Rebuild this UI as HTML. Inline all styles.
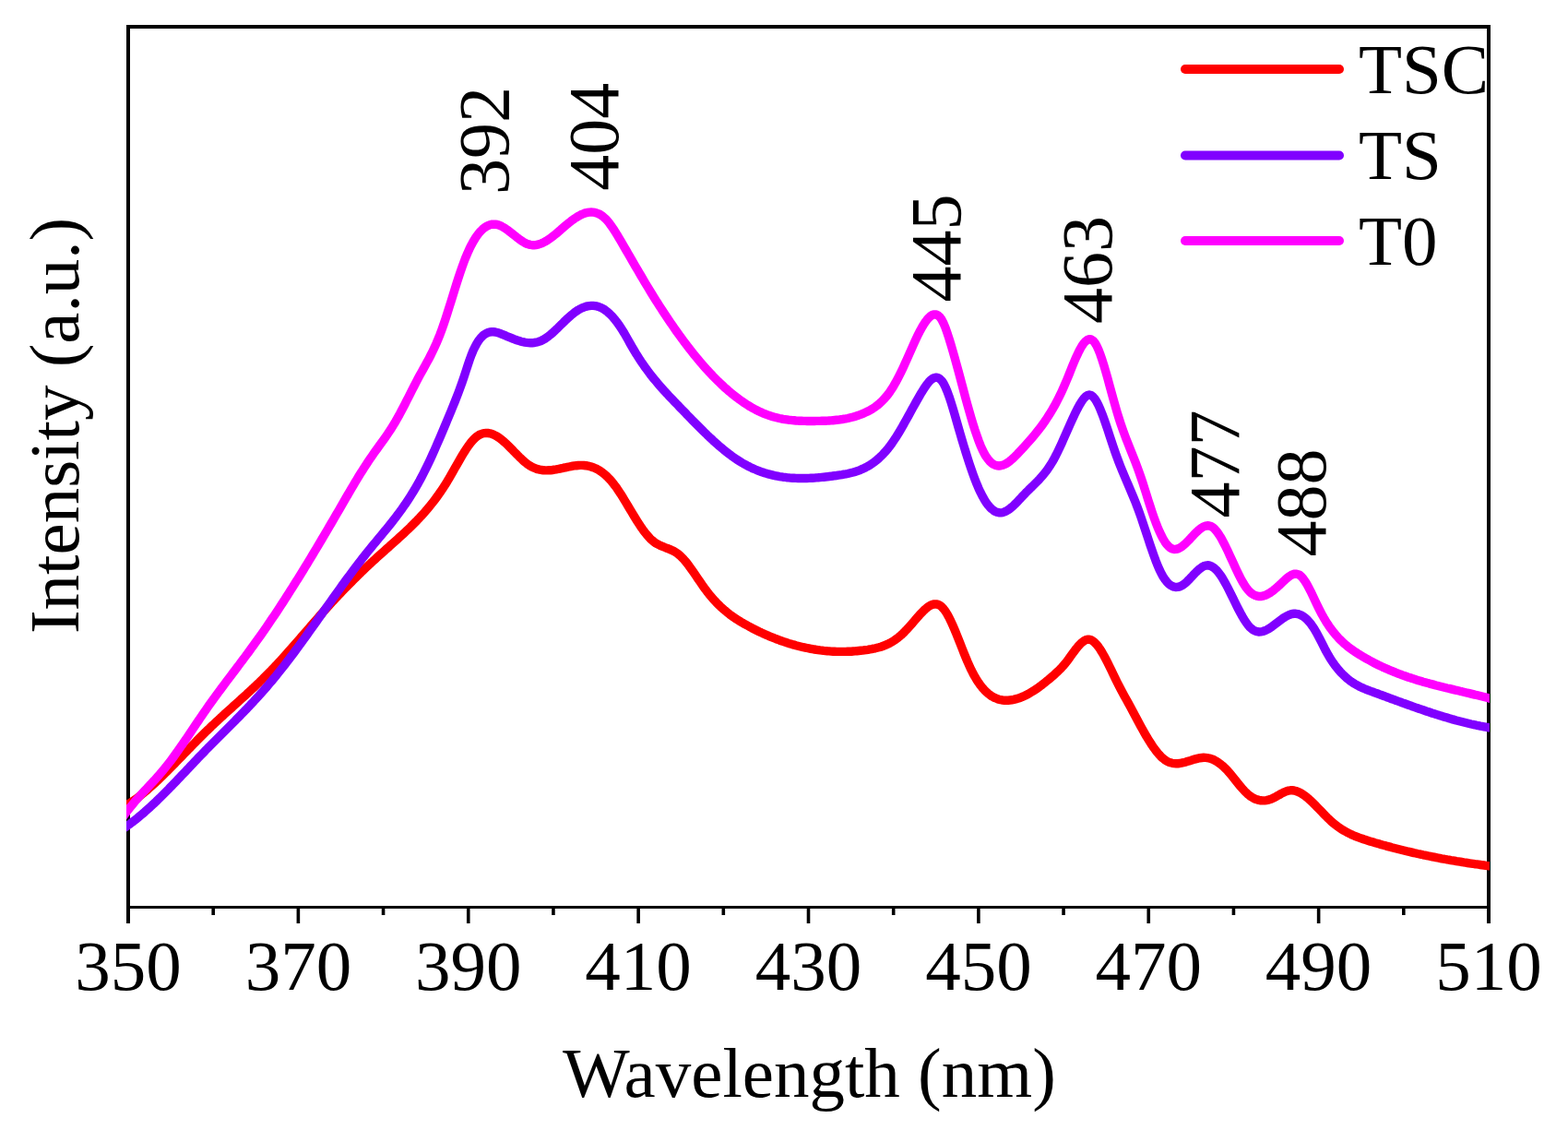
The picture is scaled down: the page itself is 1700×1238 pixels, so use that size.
<!DOCTYPE html>
<html><head><meta charset="utf-8"><title>PL spectra</title>
<style>html,body{margin:0;padding:0;background:#fff;width:1700px;height:1238px;overflow:hidden}svg{display:block}</style>
</head><body>
<svg width="1700" height="1238" viewBox="0 0 1700 1238">
<rect width="1700" height="1238" fill="#fff"/>
<g fill="#000">
<rect x="137" y="27" width="4" height="974"/>
<rect x="1612" y="27" width="4" height="974"/>
<rect x="137" y="27" width="1479" height="4"/>
<rect x="137" y="982" width="1479" height="3"/>
<rect x="137.20" y="985" width="3.6" height="16"/><rect x="229.39" y="985" width="3.6" height="7"/><rect x="321.57" y="985" width="3.6" height="16"/><rect x="413.76" y="985" width="3.6" height="7"/><rect x="505.95" y="985" width="3.6" height="16"/><rect x="598.14" y="985" width="3.6" height="7"/><rect x="690.33" y="985" width="3.6" height="16"/><rect x="782.51" y="985" width="3.6" height="7"/><rect x="874.70" y="985" width="3.6" height="16"/><rect x="966.89" y="985" width="3.6" height="7"/><rect x="1059.08" y="985" width="3.6" height="16"/><rect x="1151.26" y="985" width="3.6" height="7"/><rect x="1243.45" y="985" width="3.6" height="16"/><rect x="1335.64" y="985" width="3.6" height="7"/><rect x="1427.83" y="985" width="3.6" height="16"/><rect x="1520.01" y="985" width="3.6" height="7"/><rect x="1612.20" y="985" width="3.6" height="16"/>
</g>
<g font-family="'Liberation Serif', 'Times New Roman', serif" font-size="77" fill="#000">
<text x="139.0" y="1073" text-anchor="middle">350</text><text x="323.4" y="1073" text-anchor="middle">370</text><text x="507.8" y="1073" text-anchor="middle">390</text><text x="692.1" y="1073" text-anchor="middle">410</text><text x="876.5" y="1073" text-anchor="middle">430</text><text x="1060.9" y="1073" text-anchor="middle">450</text><text x="1245.2" y="1073" text-anchor="middle">470</text><text x="1429.6" y="1073" text-anchor="middle">490</text><text x="1614.0" y="1073" text-anchor="middle">510</text>
<text x="877.4" y="1189" text-anchor="middle">Wavelength (nm)</text>
<text transform="translate(84.5,461.5) rotate(-90)" text-anchor="middle">Intensity (a.u.)</text>
<text transform="translate(551.4,152.4) rotate(-90)" text-anchor="middle" font-size="78">392</text><text transform="translate(669.9,148.3) rotate(-90)" text-anchor="middle" font-size="78">404</text><text transform="translate(1040.9,268.9) rotate(-90)" text-anchor="middle" font-size="78">445</text><text transform="translate(1205.3,292.5) rotate(-90)" text-anchor="middle" font-size="78">463</text><text transform="translate(1343.4,503.0) rotate(-90)" text-anchor="middle" font-size="78">477</text><text transform="translate(1436.9,544.9) rotate(-90)" text-anchor="middle" font-size="78">488</text>
<text x="1473" y="101">TSC</text>
<text x="1473" y="194">TS</text>
<text x="1473" y="287">T0</text>
</g>
<clipPath id="pc"><rect x="137" y="0" width="1478" height="1238"/></clipPath>
<g fill="none" stroke-width="9.4" stroke-linejoin="round" stroke-linecap="butt" clip-path="url(#pc)">
<path stroke="#FF0000" d="M133.0,875.4 L135.0,874.3 L137.0,873.1 L139.0,871.8 L141.0,870.6 L143.0,869.2 L145.0,867.8 L147.0,866.4 L149.0,864.9 L151.0,863.4 L153.0,861.8 L155.0,860.2 L157.0,858.5 L159.0,856.8 L161.0,855.1 L163.0,853.3 L165.0,851.5 L167.0,849.7 L169.0,847.9 L171.0,846.0 L173.0,844.1 L175.0,842.2 L177.0,840.2 L179.0,838.2 L181.0,836.3 L183.0,834.2 L185.0,832.2 L187.0,830.2 L189.0,828.2 L191.0,826.1 L193.0,824.0 L195.0,822.0 L197.0,819.9 L199.0,817.8 L201.0,815.8 L203.0,813.7 L205.0,811.6 L207.0,809.6 L209.0,807.5 L211.0,805.5 L213.0,803.4 L215.0,801.4 L217.0,799.4 L219.0,797.4 L221.0,795.4 L223.0,793.4 L225.0,791.5 L227.0,789.6 L229.0,787.6 L231.0,785.8 L233.0,783.9 L235.0,782.0 L237.0,780.2 L239.0,778.3 L241.0,776.5 L243.0,774.6 L245.0,772.8 L247.0,771.0 L249.0,769.2 L251.0,767.4 L253.0,765.6 L255.0,763.8 L257.0,762.0 L259.0,760.2 L261.0,758.3 L263.0,756.5 L265.0,754.7 L267.0,752.9 L269.0,751.0 L271.0,749.2 L273.0,747.3 L275.0,745.5 L277.0,743.6 L279.0,741.7 L281.0,739.8 L283.0,737.8 L285.0,735.9 L287.0,733.9 L289.0,731.9 L291.0,729.9 L293.0,727.9 L295.0,725.8 L297.0,723.7 L299.0,721.6 L301.0,719.4 L303.0,717.3 L305.0,715.1 L307.0,712.9 L309.0,710.7 L311.0,708.5 L313.0,706.2 L315.0,704.0 L317.0,701.7 L319.0,699.4 L321.0,697.1 L323.0,694.8 L325.0,692.5 L327.0,690.2 L329.0,687.9 L331.0,685.6 L333.0,683.3 L335.0,681.0 L337.0,678.7 L339.0,676.4 L341.0,674.1 L343.0,671.8 L345.0,669.5 L347.0,667.2 L349.0,665.0 L351.0,662.7 L353.0,660.5 L355.0,658.3 L357.0,656.1 L359.0,653.9 L361.0,651.7 L363.0,649.6 L365.0,647.4 L367.0,645.3 L369.0,643.2 L371.0,641.1 L373.0,639.0 L375.0,637.0 L377.0,634.9 L379.0,632.9 L381.0,630.9 L383.0,628.8 L385.0,626.9 L387.0,624.9 L389.0,622.9 L391.0,621.0 L393.0,619.0 L395.0,617.1 L397.0,615.2 L399.0,613.3 L401.0,611.4 L403.0,609.6 L405.0,607.7 L407.0,605.9 L409.0,604.1 L411.0,602.3 L413.0,600.5 L415.0,598.7 L417.0,596.9 L419.0,595.1 L421.0,593.4 L423.0,591.6 L425.0,589.8 L427.0,588.0 L429.0,586.2 L431.0,584.4 L433.0,582.6 L435.0,580.8 L437.0,579.0 L439.0,577.1 L441.0,575.2 L443.0,573.3 L445.0,571.4 L447.0,569.4 L449.0,567.4 L451.0,565.4 L453.0,563.3 L455.0,561.2 L457.0,559.0 L459.0,556.8 L461.0,554.6 L463.0,552.2 L465.0,549.9 L467.0,547.4 L469.0,544.9 L471.0,542.3 L473.0,539.6 L475.0,536.9 L477.0,534.0 L479.0,531.1 L481.0,528.1 L483.0,524.9 L485.0,521.7 L487.0,518.3 L489.0,514.9 L491.0,511.4 L493.0,507.8 L495.0,504.3 L497.0,500.8 L499.0,497.3 L501.0,493.9 L503.0,490.6 L505.0,487.5 L507.0,484.5 L509.0,481.8 L511.0,479.2 L513.0,476.9 L515.0,474.9 L517.0,473.2 L519.0,471.8 L521.0,470.8 L523.0,470.0 L525.0,469.6 L527.0,469.4 L529.0,469.5 L531.0,469.8 L533.0,470.3 L535.0,471.1 L537.0,472.1 L539.0,473.2 L541.0,474.5 L543.0,476.0 L545.0,477.6 L547.0,479.3 L549.0,481.2 L551.0,483.1 L553.0,485.1 L555.0,487.1 L557.0,489.2 L559.0,491.2 L561.0,493.3 L563.0,495.3 L565.0,497.2 L567.0,499.1 L569.0,500.8 L571.0,502.4 L573.0,503.9 L575.0,505.2 L577.0,506.3 L579.0,507.2 L581.0,508.0 L583.0,508.7 L585.0,509.1 L587.0,509.5 L589.0,509.7 L591.0,509.9 L593.0,509.9 L595.0,509.8 L597.0,509.7 L599.0,509.5 L601.0,509.2 L603.0,508.9 L605.0,508.5 L607.0,508.1 L609.0,507.7 L611.0,507.2 L613.0,506.8 L615.0,506.4 L617.0,506.0 L619.0,505.6 L621.0,505.2 L623.0,504.9 L625.0,504.7 L627.0,504.5 L629.0,504.4 L631.0,504.4 L633.0,504.5 L635.0,504.7 L637.0,505.0 L639.0,505.4 L641.0,506.0 L643.0,506.7 L645.0,507.5 L647.0,508.4 L649.0,509.5 L651.0,510.8 L653.0,512.2 L655.0,513.7 L657.0,515.5 L659.0,517.4 L661.0,519.5 L663.0,521.7 L665.0,524.2 L667.0,526.8 L669.0,529.6 L671.0,532.6 L673.0,535.6 L675.0,538.8 L677.0,542.1 L679.0,545.4 L681.0,548.7 L683.0,552.1 L685.0,555.4 L687.0,558.7 L689.0,562.0 L691.0,565.2 L693.0,568.3 L695.0,571.3 L697.0,574.2 L699.0,576.9 L701.0,579.4 L703.0,581.7 L705.0,583.9 L707.0,585.7 L709.0,587.4 L711.0,588.8 L713.0,589.9 L715.0,591.0 L717.0,591.9 L719.0,592.7 L721.0,593.5 L723.0,594.3 L725.0,595.0 L727.0,595.9 L729.0,596.8 L731.0,597.8 L733.0,599.0 L735.0,600.4 L737.0,602.1 L739.0,603.9 L741.0,606.0 L743.0,608.3 L745.0,610.8 L747.0,613.4 L749.0,616.2 L751.0,619.0 L753.0,621.9 L755.0,624.8 L757.0,627.8 L759.0,630.7 L761.0,633.6 L763.0,636.4 L765.0,639.2 L767.0,641.8 L769.0,644.4 L771.0,646.8 L773.0,649.1 L775.0,651.3 L777.0,653.4 L779.0,655.5 L781.0,657.4 L783.0,659.2 L785.0,661.0 L787.0,662.7 L789.0,664.3 L791.0,665.9 L793.0,667.4 L795.0,668.8 L797.0,670.2 L799.0,671.5 L801.0,672.7 L803.0,674.0 L805.0,675.2 L807.0,676.3 L809.0,677.4 L811.0,678.5 L813.0,679.6 L815.0,680.7 L817.0,681.7 L819.0,682.7 L821.0,683.7 L823.0,684.7 L825.0,685.6 L827.0,686.6 L829.0,687.5 L831.0,688.4 L833.0,689.2 L835.0,690.1 L837.0,690.9 L839.0,691.7 L841.0,692.5 L843.0,693.2 L845.0,694.0 L847.0,694.7 L849.0,695.4 L851.0,696.1 L853.0,696.7 L855.0,697.4 L857.0,698.0 L859.0,698.6 L861.0,699.1 L863.0,699.7 L865.0,700.2 L867.0,700.7 L869.0,701.2 L871.0,701.7 L873.0,702.1 L875.0,702.5 L877.0,702.9 L879.0,703.3 L881.0,703.7 L883.0,704.0 L885.0,704.3 L887.0,704.6 L889.0,704.9 L891.0,705.1 L893.0,705.4 L895.0,705.6 L897.0,705.8 L899.0,705.9 L901.0,706.1 L903.0,706.2 L905.0,706.3 L907.0,706.4 L909.0,706.4 L911.0,706.4 L913.0,706.4 L915.0,706.4 L917.0,706.4 L919.0,706.3 L921.0,706.3 L923.0,706.2 L925.0,706.0 L927.0,705.9 L929.0,705.7 L931.0,705.5 L933.0,705.3 L935.0,705.1 L937.0,704.8 L939.0,704.6 L941.0,704.3 L943.0,703.9 L945.0,703.6 L947.0,703.2 L949.0,702.8 L951.0,702.3 L953.0,701.8 L955.0,701.2 L957.0,700.5 L959.0,699.8 L961.0,698.9 L963.0,698.0 L965.0,697.0 L967.0,695.9 L969.0,694.6 L971.0,693.3 L973.0,691.8 L975.0,690.2 L977.0,688.5 L979.0,686.6 L981.0,684.6 L983.0,682.5 L985.0,680.3 L987.0,678.1 L989.0,675.8 L991.0,673.5 L993.0,671.2 L995.0,668.9 L997.0,666.6 L999.0,664.5 L1001.0,662.4 L1003.0,660.5 L1005.0,658.8 L1007.0,657.3 L1009.0,656.2 L1011.0,655.4 L1013.0,654.9 L1015.0,654.9 L1017.0,655.4 L1019.0,656.3 L1021.0,657.8 L1023.0,660.0 L1025.0,662.6 L1027.0,665.9 L1029.0,669.5 L1031.0,673.6 L1033.0,678.0 L1035.0,682.6 L1037.0,687.5 L1039.0,692.5 L1041.0,697.5 L1043.0,702.6 L1045.0,707.7 L1047.0,712.6 L1049.0,717.4 L1051.0,721.9 L1053.0,726.2 L1055.0,730.1 L1057.0,733.7 L1059.0,737.1 L1061.0,740.1 L1063.0,742.9 L1065.0,745.5 L1067.0,747.7 L1069.0,749.8 L1071.0,751.6 L1073.0,753.2 L1075.0,754.6 L1077.0,755.7 L1079.0,756.7 L1081.0,757.5 L1083.0,758.2 L1085.0,758.7 L1087.0,759.0 L1089.0,759.2 L1091.0,759.3 L1093.0,759.2 L1095.0,759.0 L1097.0,758.8 L1099.0,758.4 L1101.0,757.9 L1103.0,757.4 L1105.0,756.7 L1107.0,756.0 L1109.0,755.1 L1111.0,754.2 L1113.0,753.2 L1115.0,752.2 L1117.0,751.0 L1119.0,749.8 L1121.0,748.6 L1123.0,747.3 L1125.0,745.9 L1127.0,744.4 L1129.0,743.0 L1131.0,741.4 L1133.0,739.8 L1135.0,738.2 L1137.0,736.6 L1139.0,734.9 L1141.0,733.2 L1143.0,731.4 L1145.0,729.6 L1147.0,727.8 L1149.0,725.8 L1151.0,723.7 L1153.0,721.5 L1155.0,719.2 L1157.0,716.6 L1159.0,713.9 L1161.0,711.1 L1163.0,708.3 L1165.0,705.6 L1167.0,702.9 L1169.0,700.5 L1171.0,698.3 L1173.0,696.4 L1175.0,694.9 L1177.0,693.8 L1179.0,693.2 L1181.0,693.2 L1183.0,693.8 L1185.0,695.0 L1187.0,696.7 L1189.0,698.8 L1191.0,701.3 L1193.0,704.2 L1195.0,707.5 L1197.0,711.0 L1199.0,714.7 L1201.0,718.6 L1203.0,722.7 L1205.0,726.8 L1207.0,731.0 L1209.0,735.1 L1211.0,739.2 L1213.0,743.2 L1215.0,747.0 L1217.0,750.7 L1219.0,754.4 L1221.0,758.0 L1223.0,761.6 L1225.0,765.3 L1227.0,769.0 L1229.0,772.8 L1231.0,776.5 L1233.0,780.3 L1235.0,784.0 L1237.0,787.7 L1239.0,791.3 L1241.0,794.8 L1243.0,798.3 L1245.0,801.6 L1247.0,804.8 L1249.0,807.9 L1251.0,810.8 L1253.0,813.5 L1255.0,816.0 L1257.0,818.3 L1259.0,820.4 L1261.0,822.2 L1263.0,823.8 L1265.0,825.1 L1267.0,826.1 L1269.0,826.8 L1271.0,827.3 L1273.0,827.6 L1275.0,827.7 L1277.0,827.7 L1279.0,827.5 L1281.0,827.1 L1283.0,826.7 L1285.0,826.2 L1287.0,825.6 L1289.0,825.0 L1291.0,824.4 L1293.0,823.7 L1295.0,823.1 L1297.0,822.6 L1299.0,822.1 L1301.0,821.7 L1303.0,821.5 L1305.0,821.3 L1307.0,821.4 L1309.0,821.6 L1311.0,822.0 L1313.0,822.6 L1315.0,823.3 L1317.0,824.3 L1319.0,825.4 L1321.0,826.7 L1323.0,828.2 L1325.0,829.8 L1327.0,831.6 L1329.0,833.5 L1331.0,835.6 L1333.0,837.9 L1335.0,840.3 L1337.0,842.7 L1339.0,845.2 L1341.0,847.7 L1343.0,850.2 L1345.0,852.7 L1347.0,855.0 L1349.0,857.2 L1351.0,859.2 L1353.0,861.1 L1355.0,862.7 L1357.0,864.0 L1359.0,865.2 L1361.0,866.2 L1363.0,866.9 L1365.0,867.4 L1367.0,867.8 L1369.0,867.9 L1371.0,867.9 L1373.0,867.6 L1375.0,867.2 L1377.0,866.6 L1379.0,865.8 L1381.0,864.9 L1383.0,863.8 L1385.0,862.7 L1387.0,861.6 L1389.0,860.4 L1391.0,859.4 L1393.0,858.5 L1395.0,857.7 L1397.0,857.1 L1399.0,856.8 L1401.0,856.8 L1403.0,857.0 L1405.0,857.5 L1407.0,858.2 L1409.0,859.1 L1411.0,860.2 L1413.0,861.5 L1415.0,862.9 L1417.0,864.5 L1419.0,866.2 L1421.0,868.0 L1423.0,869.9 L1425.0,871.9 L1427.0,873.9 L1429.0,876.0 L1431.0,878.0 L1433.0,880.1 L1435.0,882.2 L1437.0,884.3 L1439.0,886.3 L1441.0,888.2 L1443.0,890.1 L1445.0,891.8 L1447.0,893.5 L1449.0,895.0 L1451.0,896.5 L1453.0,897.9 L1455.0,899.2 L1457.0,900.4 L1459.0,901.5 L1461.0,902.6 L1463.0,903.6 L1465.0,904.6 L1467.0,905.5 L1469.0,906.3 L1471.0,907.1 L1473.0,907.9 L1475.0,908.6 L1477.0,909.3 L1479.0,910.0 L1481.0,910.6 L1483.0,911.3 L1485.0,911.9 L1487.0,912.5 L1489.0,913.1 L1491.0,913.7 L1493.0,914.2 L1495.0,914.8 L1497.0,915.4 L1499.0,916.0 L1501.0,916.5 L1503.0,917.1 L1505.0,917.6 L1507.0,918.1 L1509.0,918.7 L1511.0,919.2 L1513.0,919.7 L1515.0,920.2 L1517.0,920.7 L1519.0,921.2 L1521.0,921.7 L1523.0,922.2 L1525.0,922.7 L1527.0,923.2 L1529.0,923.6 L1531.0,924.1 L1533.0,924.6 L1535.0,925.0 L1537.0,925.5 L1539.0,925.9 L1541.0,926.3 L1543.0,926.8 L1545.0,927.2 L1547.0,927.6 L1549.0,928.0 L1551.0,928.4 L1553.0,928.8 L1555.0,929.2 L1557.0,929.6 L1559.0,930.0 L1561.0,930.4 L1563.0,930.8 L1565.0,931.1 L1567.0,931.5 L1569.0,931.9 L1571.0,932.2 L1573.0,932.6 L1575.0,932.9 L1577.0,933.2 L1579.0,933.6 L1581.0,933.9 L1583.0,934.2 L1585.0,934.5 L1587.0,934.9 L1589.0,935.2 L1591.0,935.5 L1593.0,935.8 L1595.0,936.1 L1597.0,936.4 L1599.0,936.7 L1601.0,936.9 L1603.0,937.2 L1605.0,937.5 L1607.0,937.8 L1609.0,938.0 L1611.0,938.3 L1613.0,938.6 L1615.0,938.8 L1617.0,939.1 L1619.0,939.3"/>
<path stroke="#8000FF" d="M133.0,898.6 L135.0,897.3 L137.0,895.9 L139.0,894.5 L141.0,893.1 L143.0,891.6 L145.0,890.0 L147.0,888.5 L149.0,886.9 L151.0,885.2 L153.0,883.5 L155.0,881.8 L157.0,880.1 L159.0,878.3 L161.0,876.5 L163.0,874.7 L165.0,872.8 L167.0,871.0 L169.0,869.1 L171.0,867.1 L173.0,865.2 L175.0,863.2 L177.0,861.2 L179.0,859.2 L181.0,857.2 L183.0,855.2 L185.0,853.1 L187.0,851.1 L189.0,849.0 L191.0,846.9 L193.0,844.8 L195.0,842.7 L197.0,840.6 L199.0,838.5 L201.0,836.4 L203.0,834.3 L205.0,832.2 L207.0,830.0 L209.0,827.9 L211.0,825.8 L213.0,823.7 L215.0,821.6 L217.0,819.5 L219.0,817.5 L221.0,815.4 L223.0,813.3 L225.0,811.3 L227.0,809.2 L229.0,807.2 L231.0,805.2 L233.0,803.2 L235.0,801.2 L237.0,799.2 L239.0,797.2 L241.0,795.2 L243.0,793.2 L245.0,791.2 L247.0,789.2 L249.0,787.2 L251.0,785.2 L253.0,783.2 L255.0,781.2 L257.0,779.1 L259.0,777.1 L261.0,775.1 L263.0,773.0 L265.0,770.9 L267.0,768.9 L269.0,766.8 L271.0,764.7 L273.0,762.5 L275.0,760.4 L277.0,758.2 L279.0,756.1 L281.0,753.9 L283.0,751.6 L285.0,749.4 L287.0,747.1 L289.0,744.8 L291.0,742.5 L293.0,740.1 L295.0,737.8 L297.0,735.3 L299.0,732.9 L301.0,730.4 L303.0,727.9 L305.0,725.4 L307.0,722.9 L309.0,720.3 L311.0,717.7 L313.0,715.1 L315.0,712.4 L317.0,709.8 L319.0,707.1 L321.0,704.4 L323.0,701.7 L325.0,699.0 L327.0,696.2 L329.0,693.5 L331.0,690.7 L333.0,687.9 L335.0,685.1 L337.0,682.3 L339.0,679.5 L341.0,676.7 L343.0,673.9 L345.0,671.1 L347.0,668.3 L349.0,665.5 L351.0,662.6 L353.0,659.8 L355.0,657.0 L357.0,654.2 L359.0,651.4 L361.0,648.6 L363.0,645.8 L365.0,643.0 L367.0,640.2 L369.0,637.4 L371.0,634.6 L373.0,631.9 L375.0,629.1 L377.0,626.4 L379.0,623.7 L381.0,621.0 L383.0,618.3 L385.0,615.7 L387.0,613.0 L389.0,610.4 L391.0,607.8 L393.0,605.2 L395.0,602.7 L397.0,600.1 L399.0,597.6 L401.0,595.2 L403.0,592.7 L405.0,590.3 L407.0,587.9 L409.0,585.5 L411.0,583.1 L413.0,580.7 L415.0,578.3 L417.0,575.8 L419.0,573.4 L421.0,571.0 L423.0,568.5 L425.0,566.0 L427.0,563.4 L429.0,560.8 L431.0,558.2 L433.0,555.5 L435.0,552.8 L437.0,549.9 L439.0,547.1 L441.0,544.1 L443.0,541.1 L445.0,538.0 L447.0,534.8 L449.0,531.5 L451.0,528.1 L453.0,524.6 L455.0,521.0 L457.0,517.2 L459.0,513.4 L461.0,509.4 L463.0,505.4 L465.0,501.2 L467.0,496.9 L469.0,492.5 L471.0,488.1 L473.0,483.5 L475.0,478.9 L477.0,474.3 L479.0,469.6 L481.0,464.9 L483.0,460.1 L485.0,455.3 L487.0,450.5 L489.0,445.7 L491.0,440.8 L493.0,435.9 L495.0,430.8 L497.0,425.6 L499.0,420.2 L501.0,414.6 L503.0,408.7 L505.0,402.6 L507.0,396.5 L509.0,390.5 L511.0,385.0 L513.0,380.1 L515.0,375.9 L517.0,372.2 L519.0,369.1 L521.0,366.5 L523.0,364.4 L525.0,362.7 L527.0,361.5 L529.0,360.6 L531.0,360.0 L533.0,359.8 L535.0,359.8 L537.0,360.0 L539.0,360.5 L541.0,361.1 L543.0,361.8 L545.0,362.6 L547.0,363.4 L549.0,364.3 L551.0,365.1 L553.0,365.9 L555.0,366.8 L557.0,367.5 L559.0,368.3 L561.0,369.0 L563.0,369.6 L565.0,370.2 L567.0,370.7 L569.0,371.1 L571.0,371.4 L573.0,371.6 L575.0,371.7 L577.0,371.7 L579.0,371.5 L581.0,371.2 L583.0,370.7 L585.0,370.1 L587.0,369.3 L589.0,368.3 L591.0,367.1 L593.0,365.7 L595.0,364.2 L597.0,362.6 L599.0,360.9 L601.0,359.1 L603.0,357.2 L605.0,355.3 L607.0,353.3 L609.0,351.3 L611.0,349.4 L613.0,347.4 L615.0,345.5 L617.0,343.7 L619.0,341.9 L621.0,340.3 L623.0,338.7 L625.0,337.3 L627.0,336.0 L629.0,334.9 L631.0,333.9 L633.0,333.1 L635.0,332.4 L637.0,331.9 L639.0,331.6 L641.0,331.4 L643.0,331.4 L645.0,331.6 L647.0,331.9 L649.0,332.5 L651.0,333.3 L653.0,334.2 L655.0,335.4 L657.0,336.8 L659.0,338.4 L661.0,340.2 L663.0,342.2 L665.0,344.4 L667.0,346.8 L669.0,349.4 L671.0,352.1 L673.0,355.1 L675.0,358.2 L677.0,361.5 L679.0,365.0 L681.0,368.5 L683.0,372.1 L685.0,375.6 L687.0,379.0 L689.0,382.4 L691.0,385.6 L693.0,388.7 L695.0,391.8 L697.0,394.7 L699.0,397.6 L701.0,400.3 L703.0,403.0 L705.0,405.7 L707.0,408.2 L709.0,410.7 L711.0,413.1 L713.0,415.5 L715.0,417.8 L717.0,420.1 L719.0,422.4 L721.0,424.6 L723.0,426.7 L725.0,428.9 L727.0,431.0 L729.0,433.1 L731.0,435.2 L733.0,437.3 L735.0,439.3 L737.0,441.4 L739.0,443.5 L741.0,445.5 L743.0,447.6 L745.0,449.7 L747.0,451.7 L749.0,453.8 L751.0,455.9 L753.0,457.9 L755.0,459.9 L757.0,461.9 L759.0,463.9 L761.0,465.9 L763.0,467.9 L765.0,469.8 L767.0,471.8 L769.0,473.7 L771.0,475.5 L773.0,477.4 L775.0,479.2 L777.0,481.0 L779.0,482.8 L781.0,484.5 L783.0,486.2 L785.0,487.8 L787.0,489.5 L789.0,491.0 L791.0,492.6 L793.0,494.1 L795.0,495.5 L797.0,496.9 L799.0,498.2 L801.0,499.5 L803.0,500.8 L805.0,502.0 L807.0,503.1 L809.0,504.2 L811.0,505.3 L813.0,506.3 L815.0,507.2 L817.0,508.2 L819.0,509.0 L821.0,509.8 L823.0,510.6 L825.0,511.4 L827.0,512.0 L829.0,512.7 L831.0,513.3 L833.0,513.9 L835.0,514.4 L837.0,514.9 L839.0,515.4 L841.0,515.8 L843.0,516.2 L845.0,516.6 L847.0,516.9 L849.0,517.2 L851.0,517.4 L853.0,517.7 L855.0,517.9 L857.0,518.1 L859.0,518.2 L861.0,518.3 L863.0,518.4 L865.0,518.5 L867.0,518.5 L869.0,518.5 L871.0,518.5 L873.0,518.5 L875.0,518.5 L877.0,518.4 L879.0,518.3 L881.0,518.2 L883.0,518.1 L885.0,517.9 L887.0,517.8 L889.0,517.6 L891.0,517.4 L893.0,517.2 L895.0,517.0 L897.0,516.8 L899.0,516.5 L901.0,516.3 L903.0,516.0 L905.0,515.7 L907.0,515.5 L909.0,515.2 L911.0,514.9 L913.0,514.6 L915.0,514.2 L917.0,513.9 L919.0,513.5 L921.0,513.0 L923.0,512.5 L925.0,512.0 L927.0,511.4 L929.0,510.8 L931.0,510.1 L933.0,509.3 L935.0,508.4 L937.0,507.5 L939.0,506.5 L941.0,505.4 L943.0,504.2 L945.0,502.9 L947.0,501.5 L949.0,500.0 L951.0,498.3 L953.0,496.6 L955.0,494.7 L957.0,492.7 L959.0,490.6 L961.0,488.3 L963.0,485.9 L965.0,483.3 L967.0,480.6 L969.0,477.7 L971.0,474.7 L973.0,471.5 L975.0,468.2 L977.0,464.8 L979.0,461.4 L981.0,457.8 L983.0,454.2 L985.0,450.6 L987.0,447.0 L989.0,443.3 L991.0,439.7 L993.0,436.1 L995.0,432.6 L997.0,429.1 L999.0,425.7 L1001.0,422.5 L1003.0,419.4 L1005.0,416.6 L1007.0,414.1 L1009.0,412.0 L1011.0,410.5 L1013.0,409.5 L1015.0,409.1 L1017.0,409.5 L1019.0,410.7 L1021.0,412.7 L1023.0,415.7 L1025.0,419.6 L1027.0,424.4 L1029.0,429.8 L1031.0,435.9 L1033.0,442.4 L1035.0,449.1 L1037.0,456.1 L1039.0,463.1 L1041.0,470.0 L1043.0,476.8 L1045.0,483.5 L1047.0,490.0 L1049.0,496.4 L1051.0,502.6 L1053.0,508.5 L1055.0,514.2 L1057.0,519.6 L1059.0,524.7 L1061.0,529.4 L1063.0,533.7 L1065.0,537.7 L1067.0,541.2 L1069.0,544.4 L1071.0,547.2 L1073.0,549.6 L1075.0,551.6 L1077.0,553.2 L1079.0,554.5 L1081.0,555.3 L1083.0,555.8 L1085.0,555.9 L1087.0,555.6 L1089.0,554.9 L1091.0,554.0 L1093.0,552.8 L1095.0,551.4 L1097.0,549.7 L1099.0,547.9 L1101.0,546.0 L1103.0,543.9 L1105.0,541.8 L1107.0,539.7 L1109.0,537.5 L1111.0,535.4 L1113.0,533.3 L1115.0,531.4 L1117.0,529.4 L1119.0,527.5 L1121.0,525.5 L1123.0,523.5 L1125.0,521.5 L1127.0,519.4 L1129.0,517.2 L1131.0,514.9 L1133.0,512.4 L1135.0,509.8 L1137.0,506.9 L1139.0,503.9 L1141.0,500.6 L1143.0,497.1 L1145.0,493.3 L1147.0,489.2 L1149.0,485.0 L1151.0,480.7 L1153.0,476.2 L1155.0,471.7 L1157.0,467.1 L1159.0,462.6 L1161.0,458.1 L1163.0,453.7 L1165.0,449.4 L1167.0,445.4 L1169.0,441.5 L1171.0,437.9 L1173.0,434.7 L1175.0,432.0 L1177.0,429.9 L1179.0,428.5 L1181.0,428.0 L1183.0,428.5 L1185.0,430.0 L1187.0,432.3 L1189.0,435.5 L1191.0,439.4 L1193.0,443.9 L1195.0,448.9 L1197.0,454.4 L1199.0,460.1 L1201.0,466.1 L1203.0,472.2 L1205.0,478.3 L1207.0,484.3 L1209.0,490.1 L1211.0,495.7 L1213.0,501.0 L1215.0,506.1 L1217.0,511.0 L1219.0,515.8 L1221.0,520.5 L1223.0,525.2 L1225.0,529.8 L1227.0,534.6 L1229.0,539.4 L1231.0,544.3 L1233.0,549.5 L1235.0,554.9 L1237.0,560.5 L1239.0,566.4 L1241.0,572.4 L1243.0,578.5 L1245.0,584.6 L1247.0,590.7 L1249.0,596.6 L1251.0,602.3 L1253.0,607.7 L1255.0,612.7 L1257.0,617.4 L1259.0,621.5 L1261.0,625.1 L1263.0,628.1 L1265.0,630.7 L1267.0,632.8 L1269.0,634.4 L1271.0,635.5 L1273.0,636.2 L1275.0,636.5 L1277.0,636.4 L1279.0,635.9 L1281.0,635.0 L1283.0,633.7 L1285.0,632.2 L1287.0,630.4 L1289.0,628.4 L1291.0,626.3 L1293.0,624.2 L1295.0,622.0 L1297.0,620.0 L1299.0,618.1 L1301.0,616.4 L1303.0,614.9 L1305.0,613.8 L1307.0,613.1 L1309.0,612.8 L1311.0,613.0 L1313.0,613.7 L1315.0,614.8 L1317.0,616.3 L1319.0,618.2 L1321.0,620.5 L1323.0,623.2 L1325.0,626.2 L1327.0,629.6 L1329.0,633.1 L1331.0,636.9 L1333.0,640.8 L1335.0,644.9 L1337.0,648.9 L1339.0,653.0 L1341.0,657.1 L1343.0,661.0 L1345.0,664.8 L1347.0,668.4 L1349.0,671.7 L1351.0,674.8 L1353.0,677.5 L1355.0,679.8 L1357.0,681.7 L1359.0,683.1 L1361.0,684.1 L1363.0,684.7 L1365.0,685.0 L1367.0,684.9 L1369.0,684.5 L1371.0,683.8 L1373.0,683.0 L1375.0,681.9 L1377.0,680.7 L1379.0,679.3 L1381.0,677.8 L1383.0,676.3 L1385.0,674.8 L1387.0,673.3 L1389.0,671.8 L1391.0,670.3 L1393.0,669.0 L1395.0,667.9 L1397.0,666.9 L1399.0,666.1 L1401.0,665.5 L1403.0,665.3 L1405.0,665.3 L1407.0,665.6 L1409.0,666.2 L1411.0,667.1 L1413.0,668.3 L1415.0,669.8 L1417.0,671.6 L1419.0,673.7 L1421.0,676.1 L1423.0,678.9 L1425.0,681.9 L1427.0,685.3 L1429.0,689.0 L1431.0,692.8 L1433.0,696.7 L1435.0,700.7 L1437.0,704.6 L1439.0,708.2 L1441.0,711.7 L1443.0,714.9 L1445.0,718.0 L1447.0,720.8 L1449.0,723.4 L1451.0,725.9 L1453.0,728.2 L1455.0,730.3 L1457.0,732.3 L1459.0,734.1 L1461.0,735.8 L1463.0,737.4 L1465.0,738.9 L1467.0,740.2 L1469.0,741.5 L1471.0,742.6 L1473.0,743.7 L1475.0,744.7 L1477.0,745.6 L1479.0,746.5 L1481.0,747.3 L1483.0,748.1 L1485.0,748.9 L1487.0,749.6 L1489.0,750.3 L1491.0,751.1 L1493.0,751.8 L1495.0,752.5 L1497.0,753.3 L1499.0,754.0 L1501.0,754.7 L1503.0,755.5 L1505.0,756.2 L1507.0,757.0 L1509.0,757.7 L1511.0,758.4 L1513.0,759.2 L1515.0,759.9 L1517.0,760.6 L1519.0,761.3 L1521.0,762.1 L1523.0,762.8 L1525.0,763.5 L1527.0,764.2 L1529.0,764.9 L1531.0,765.7 L1533.0,766.4 L1535.0,767.1 L1537.0,767.8 L1539.0,768.5 L1541.0,769.1 L1543.0,769.8 L1545.0,770.5 L1547.0,771.2 L1549.0,771.8 L1551.0,772.5 L1553.0,773.2 L1555.0,773.8 L1557.0,774.4 L1559.0,775.1 L1561.0,775.7 L1563.0,776.3 L1565.0,776.9 L1567.0,777.5 L1569.0,778.1 L1571.0,778.7 L1573.0,779.3 L1575.0,779.9 L1577.0,780.4 L1579.0,781.0 L1581.0,781.5 L1583.0,782.0 L1585.0,782.5 L1587.0,783.0 L1589.0,783.5 L1591.0,784.0 L1593.0,784.5 L1595.0,785.0 L1597.0,785.4 L1599.0,785.8 L1601.0,786.3 L1603.0,786.7 L1605.0,787.1 L1607.0,787.4 L1609.0,787.8 L1611.0,788.2 L1613.0,788.5 L1615.0,788.8 L1617.0,789.1 L1619.0,789.4"/>
<path stroke="#FF00FF" d="M133.0,886.0 L135.0,883.2 L137.0,880.5 L139.0,877.9 L141.0,875.3 L143.0,872.9 L145.0,870.5 L147.0,868.1 L149.0,865.8 L151.0,863.6 L153.0,861.4 L155.0,859.2 L157.0,857.0 L159.0,854.9 L161.0,852.7 L163.0,850.6 L165.0,848.4 L167.0,846.3 L169.0,844.1 L171.0,841.8 L173.0,839.6 L175.0,837.2 L177.0,834.9 L179.0,832.4 L181.0,829.9 L183.0,827.4 L185.0,824.8 L187.0,822.1 L189.0,819.4 L191.0,816.6 L193.0,813.8 L195.0,810.9 L197.0,808.1 L199.0,805.1 L201.0,802.2 L203.0,799.3 L205.0,796.3 L207.0,793.3 L209.0,790.4 L211.0,787.4 L213.0,784.4 L215.0,781.5 L217.0,778.5 L219.0,775.6 L221.0,772.7 L223.0,769.8 L225.0,766.9 L227.0,764.1 L229.0,761.3 L231.0,758.5 L233.0,755.8 L235.0,753.0 L237.0,750.3 L239.0,747.6 L241.0,744.9 L243.0,742.2 L245.0,739.5 L247.0,736.9 L249.0,734.2 L251.0,731.6 L253.0,728.9 L255.0,726.3 L257.0,723.6 L259.0,721.0 L261.0,718.3 L263.0,715.6 L265.0,713.0 L267.0,710.3 L269.0,707.6 L271.0,704.9 L273.0,702.1 L275.0,699.4 L277.0,696.6 L279.0,693.8 L281.0,691.0 L283.0,688.2 L285.0,685.3 L287.0,682.5 L289.0,679.6 L291.0,676.6 L293.0,673.7 L295.0,670.7 L297.0,667.8 L299.0,664.8 L301.0,661.8 L303.0,658.7 L305.0,655.7 L307.0,652.6 L309.0,649.5 L311.0,646.4 L313.0,643.3 L315.0,640.1 L317.0,637.0 L319.0,633.8 L321.0,630.6 L323.0,627.4 L325.0,624.2 L327.0,621.0 L329.0,617.7 L331.0,614.4 L333.0,611.2 L335.0,607.9 L337.0,604.6 L339.0,601.3 L341.0,597.9 L343.0,594.6 L345.0,591.3 L347.0,587.9 L349.0,584.5 L351.0,581.1 L353.0,577.8 L355.0,574.4 L357.0,570.9 L359.0,567.5 L361.0,564.1 L363.0,560.7 L365.0,557.2 L367.0,553.8 L369.0,550.3 L371.0,546.9 L373.0,543.4 L375.0,539.9 L377.0,536.5 L379.0,533.1 L381.0,529.7 L383.0,526.3 L385.0,522.9 L387.0,519.6 L389.0,516.3 L391.0,513.1 L393.0,509.9 L395.0,506.8 L397.0,503.7 L399.0,500.6 L401.0,497.7 L403.0,494.8 L405.0,491.9 L407.0,489.1 L409.0,486.4 L411.0,483.6 L413.0,480.8 L415.0,478.0 L417.0,475.2 L419.0,472.3 L421.0,469.4 L423.0,466.4 L425.0,463.2 L427.0,460.0 L429.0,456.7 L431.0,453.2 L433.0,449.6 L435.0,445.8 L437.0,442.0 L439.0,438.2 L441.0,434.2 L443.0,430.3 L445.0,426.3 L447.0,422.4 L449.0,418.5 L451.0,414.6 L453.0,410.8 L455.0,407.1 L457.0,403.5 L459.0,399.9 L461.0,396.3 L463.0,392.6 L465.0,388.9 L467.0,385.0 L469.0,381.0 L471.0,376.8 L473.0,372.4 L475.0,367.7 L477.0,362.7 L479.0,357.3 L481.0,351.6 L483.0,345.7 L485.0,339.5 L487.0,333.2 L489.0,326.8 L491.0,320.3 L493.0,313.9 L495.0,307.5 L497.0,301.3 L499.0,295.3 L501.0,289.5 L503.0,284.0 L505.0,278.8 L507.0,274.1 L509.0,269.7 L511.0,265.7 L513.0,262.0 L515.0,258.7 L517.0,255.7 L519.0,253.0 L521.0,250.7 L523.0,248.7 L525.0,247.0 L527.0,245.7 L529.0,244.6 L531.0,243.8 L533.0,243.3 L535.0,243.1 L537.0,243.2 L539.0,243.5 L541.0,244.1 L543.0,244.9 L545.0,246.0 L547.0,247.1 L549.0,248.5 L551.0,249.9 L553.0,251.5 L555.0,253.0 L557.0,254.6 L559.0,256.2 L561.0,257.8 L563.0,259.3 L565.0,260.7 L567.0,262.0 L569.0,263.2 L571.0,264.2 L573.0,264.9 L575.0,265.4 L577.0,265.7 L579.0,265.8 L581.0,265.6 L583.0,265.2 L585.0,264.6 L587.0,263.9 L589.0,263.0 L591.0,261.9 L593.0,260.7 L595.0,259.4 L597.0,258.0 L599.0,256.5 L601.0,254.9 L603.0,253.3 L605.0,251.6 L607.0,249.9 L609.0,248.1 L611.0,246.4 L613.0,244.7 L615.0,243.0 L617.0,241.4 L619.0,239.8 L621.0,238.3 L623.0,236.9 L625.0,235.6 L627.0,234.4 L629.0,233.3 L631.0,232.3 L633.0,231.5 L635.0,230.8 L637.0,230.4 L639.0,230.1 L641.0,230.0 L643.0,230.1 L645.0,230.4 L647.0,231.0 L649.0,231.8 L651.0,232.8 L653.0,234.2 L655.0,235.8 L657.0,237.7 L659.0,239.9 L661.0,242.4 L663.0,245.2 L665.0,248.1 L667.0,251.2 L669.0,254.4 L671.0,257.8 L673.0,261.2 L675.0,264.6 L677.0,268.1 L679.0,271.5 L681.0,275.0 L683.0,278.4 L685.0,281.9 L687.0,285.3 L689.0,288.8 L691.0,292.2 L693.0,295.6 L695.0,299.0 L697.0,302.4 L699.0,305.8 L701.0,309.1 L703.0,312.4 L705.0,315.7 L707.0,319.0 L709.0,322.2 L711.0,325.4 L713.0,328.6 L715.0,331.7 L717.0,334.8 L719.0,337.9 L721.0,340.9 L723.0,343.9 L725.0,346.9 L727.0,349.8 L729.0,352.7 L731.0,355.6 L733.0,358.5 L735.0,361.3 L737.0,364.0 L739.0,366.8 L741.0,369.5 L743.0,372.1 L745.0,374.8 L747.0,377.4 L749.0,379.9 L751.0,382.5 L753.0,384.9 L755.0,387.4 L757.0,389.8 L759.0,392.2 L761.0,394.5 L763.0,396.8 L765.0,399.1 L767.0,401.3 L769.0,403.4 L771.0,405.6 L773.0,407.7 L775.0,409.7 L777.0,411.7 L779.0,413.7 L781.0,415.6 L783.0,417.5 L785.0,419.4 L787.0,421.2 L789.0,422.9 L791.0,424.7 L793.0,426.3 L795.0,428.0 L797.0,429.5 L799.0,431.1 L801.0,432.6 L803.0,434.0 L805.0,435.4 L807.0,436.8 L809.0,438.1 L811.0,439.4 L813.0,440.6 L815.0,441.8 L817.0,442.9 L819.0,444.0 L821.0,445.0 L823.0,446.0 L825.0,446.9 L827.0,447.8 L829.0,448.6 L831.0,449.4 L833.0,450.1 L835.0,450.8 L837.0,451.4 L839.0,452.0 L841.0,452.5 L843.0,453.0 L845.0,453.5 L847.0,453.9 L849.0,454.3 L851.0,454.6 L853.0,454.9 L855.0,455.2 L857.0,455.4 L859.0,455.6 L861.0,455.8 L863.0,456.0 L865.0,456.1 L867.0,456.2 L869.0,456.3 L871.0,456.4 L873.0,456.4 L875.0,456.5 L877.0,456.5 L879.0,456.5 L881.0,456.5 L883.0,456.5 L885.0,456.4 L887.0,456.4 L889.0,456.4 L891.0,456.3 L893.0,456.3 L895.0,456.2 L897.0,456.1 L899.0,456.0 L901.0,455.9 L903.0,455.7 L905.0,455.5 L907.0,455.3 L909.0,455.1 L911.0,454.8 L913.0,454.6 L915.0,454.2 L917.0,453.9 L919.0,453.5 L921.0,453.0 L923.0,452.5 L925.0,452.0 L927.0,451.4 L929.0,450.8 L931.0,450.1 L933.0,449.4 L935.0,448.6 L937.0,447.7 L939.0,446.8 L941.0,445.9 L943.0,444.8 L945.0,443.7 L947.0,442.4 L949.0,441.1 L951.0,439.6 L953.0,437.9 L955.0,436.1 L957.0,434.2 L959.0,432.0 L961.0,429.7 L963.0,427.2 L965.0,424.4 L967.0,421.4 L969.0,418.2 L971.0,414.7 L973.0,411.0 L975.0,407.1 L977.0,403.1 L979.0,398.9 L981.0,394.6 L983.0,390.1 L985.0,385.6 L987.0,381.1 L989.0,376.6 L991.0,372.1 L993.0,367.8 L995.0,363.6 L997.0,359.6 L999.0,355.9 L1001.0,352.5 L1003.0,349.4 L1005.0,346.7 L1007.0,344.4 L1009.0,342.6 L1011.0,341.4 L1013.0,340.9 L1015.0,341.0 L1017.0,342.0 L1019.0,343.8 L1021.0,346.6 L1023.0,350.5 L1025.0,355.3 L1027.0,361.0 L1029.0,367.1 L1031.0,373.7 L1033.0,380.5 L1035.0,387.5 L1037.0,394.7 L1039.0,402.1 L1041.0,409.5 L1043.0,417.0 L1045.0,424.5 L1047.0,431.9 L1049.0,439.2 L1051.0,446.3 L1053.0,453.2 L1055.0,459.8 L1057.0,466.2 L1059.0,472.1 L1061.0,477.7 L1063.0,482.8 L1065.0,487.3 L1067.0,491.3 L1069.0,494.8 L1071.0,497.6 L1073.0,500.0 L1075.0,501.9 L1077.0,503.3 L1079.0,504.2 L1081.0,504.8 L1083.0,505.0 L1085.0,504.8 L1087.0,504.3 L1089.0,503.5 L1091.0,502.5 L1093.0,501.2 L1095.0,499.7 L1097.0,498.0 L1099.0,496.2 L1101.0,494.2 L1103.0,492.2 L1105.0,490.1 L1107.0,487.9 L1109.0,485.8 L1111.0,483.6 L1113.0,481.4 L1115.0,479.2 L1117.0,476.9 L1119.0,474.6 L1121.0,472.2 L1123.0,469.8 L1125.0,467.3 L1127.0,464.8 L1129.0,462.1 L1131.0,459.4 L1133.0,456.5 L1135.0,453.5 L1137.0,450.4 L1139.0,447.2 L1141.0,443.9 L1143.0,440.4 L1145.0,436.7 L1147.0,432.9 L1149.0,428.9 L1151.0,424.7 L1153.0,420.3 L1155.0,415.7 L1157.0,411.0 L1159.0,406.1 L1161.0,401.1 L1163.0,396.1 L1165.0,391.3 L1167.0,386.7 L1169.0,382.4 L1171.0,378.5 L1173.0,375.0 L1175.0,372.1 L1177.0,369.9 L1179.0,368.4 L1181.0,367.7 L1183.0,368.0 L1185.0,369.2 L1187.0,371.5 L1189.0,374.9 L1191.0,379.3 L1193.0,384.4 L1195.0,390.3 L1197.0,396.7 L1199.0,403.5 L1201.0,410.6 L1203.0,417.9 L1205.0,425.2 L1207.0,432.5 L1209.0,439.6 L1211.0,446.5 L1213.0,453.0 L1215.0,459.2 L1217.0,465.0 L1219.0,470.5 L1221.0,475.8 L1223.0,480.9 L1225.0,485.9 L1227.0,490.9 L1229.0,495.9 L1231.0,501.0 L1233.0,506.3 L1235.0,511.8 L1237.0,517.6 L1239.0,523.6 L1241.0,529.9 L1243.0,536.2 L1245.0,542.6 L1247.0,548.8 L1249.0,554.9 L1251.0,560.7 L1253.0,566.2 L1255.0,571.3 L1257.0,576.0 L1259.0,580.3 L1261.0,584.1 L1263.0,587.4 L1265.0,590.2 L1267.0,592.4 L1269.0,594.0 L1271.0,595.0 L1273.0,595.5 L1275.0,595.4 L1277.0,594.9 L1279.0,594.0 L1281.0,592.8 L1283.0,591.2 L1285.0,589.5 L1287.0,587.5 L1289.0,585.5 L1291.0,583.3 L1293.0,581.2 L1295.0,579.1 L1297.0,577.0 L1299.0,575.2 L1301.0,573.5 L1303.0,572.0 L1305.0,570.9 L1307.0,570.2 L1309.0,569.8 L1311.0,570.0 L1313.0,570.6 L1315.0,571.8 L1317.0,573.6 L1319.0,575.9 L1321.0,578.6 L1323.0,581.7 L1325.0,585.2 L1327.0,589.0 L1329.0,592.9 L1331.0,597.1 L1333.0,601.4 L1335.0,605.8 L1337.0,610.1 L1339.0,614.5 L1341.0,618.8 L1343.0,622.9 L1345.0,626.8 L1347.0,630.5 L1349.0,633.8 L1351.0,636.8 L1353.0,639.4 L1355.0,641.6 L1357.0,643.3 L1359.0,644.6 L1361.0,645.6 L1363.0,646.2 L1365.0,646.5 L1367.0,646.5 L1369.0,646.2 L1371.0,645.6 L1373.0,644.8 L1375.0,643.8 L1377.0,642.6 L1379.0,641.2 L1381.0,639.7 L1383.0,638.0 L1385.0,636.3 L1387.0,634.5 L1389.0,632.6 L1391.0,630.7 L1393.0,628.8 L1395.0,627.0 L1397.0,625.4 L1399.0,624.0 L1401.0,622.9 L1403.0,622.3 L1405.0,622.1 L1407.0,622.5 L1409.0,623.4 L1411.0,625.1 L1413.0,627.4 L1415.0,630.2 L1417.0,633.5 L1419.0,637.2 L1421.0,641.1 L1423.0,645.3 L1425.0,649.5 L1427.0,653.8 L1429.0,657.9 L1431.0,661.9 L1433.0,665.7 L1435.0,669.3 L1437.0,672.7 L1439.0,675.9 L1441.0,678.9 L1443.0,681.7 L1445.0,684.3 L1447.0,686.8 L1449.0,689.2 L1451.0,691.4 L1453.0,693.5 L1455.0,695.4 L1457.0,697.3 L1459.0,699.0 L1461.0,700.7 L1463.0,702.2 L1465.0,703.7 L1467.0,705.1 L1469.0,706.5 L1471.0,707.8 L1473.0,709.1 L1475.0,710.3 L1477.0,711.5 L1479.0,712.7 L1481.0,713.8 L1483.0,714.9 L1485.0,716.0 L1487.0,717.1 L1489.0,718.2 L1491.0,719.2 L1493.0,720.2 L1495.0,721.2 L1497.0,722.1 L1499.0,723.1 L1501.0,724.0 L1503.0,724.9 L1505.0,725.7 L1507.0,726.6 L1509.0,727.4 L1511.0,728.3 L1513.0,729.0 L1515.0,729.8 L1517.0,730.6 L1519.0,731.3 L1521.0,732.1 L1523.0,732.8 L1525.0,733.5 L1527.0,734.2 L1529.0,734.8 L1531.0,735.5 L1533.0,736.1 L1535.0,736.8 L1537.0,737.4 L1539.0,738.0 L1541.0,738.6 L1543.0,739.2 L1545.0,739.7 L1547.0,740.3 L1549.0,740.8 L1551.0,741.4 L1553.0,741.9 L1555.0,742.4 L1557.0,743.0 L1559.0,743.5 L1561.0,744.0 L1563.0,744.5 L1565.0,745.0 L1567.0,745.5 L1569.0,746.0 L1571.0,746.4 L1573.0,746.9 L1575.0,747.4 L1577.0,747.9 L1579.0,748.3 L1581.0,748.8 L1583.0,749.3 L1585.0,749.7 L1587.0,750.2 L1589.0,750.7 L1591.0,751.2 L1593.0,751.6 L1595.0,752.1 L1597.0,752.6 L1599.0,753.1 L1601.0,753.5 L1603.0,754.0 L1605.0,754.5 L1607.0,755.0 L1609.0,755.5 L1611.0,756.0 L1613.0,756.5 L1615.0,757.1 L1617.0,757.6 L1619.0,758.1"/>
</g>
<g stroke-width="10" stroke-linecap="round">
<line x1="1285" y1="75" x2="1452" y2="75" stroke="#FF0000"/>
<line x1="1285" y1="168.5" x2="1452" y2="168.5" stroke="#8000FF"/>
<line x1="1285" y1="261" x2="1452" y2="261" stroke="#FF00FF"/>
</g>
</svg>
</body></html>
